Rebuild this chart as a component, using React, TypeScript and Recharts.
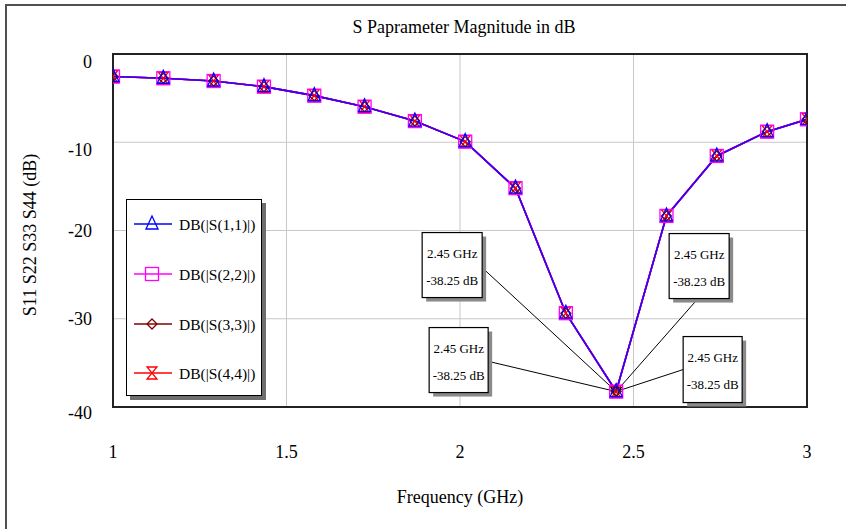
import React from 'react';
import {
  LineChart,
  Line,
  XAxis,
  YAxis,
  CartesianGrid,
  ReferenceArea,
  ReferenceDot,
  Legend,
} from 'recharts';

// ---------------- data ----------------
const freqGHz = [1.0, 1.145, 1.29, 1.435, 1.58, 1.725, 1.87, 2.015, 2.16, 2.305, 2.45, 2.595, 2.74, 2.885, 3.0];
const s11 = [-2.55, -2.75, -3.06, -3.7, -4.72, -5.97, -7.6, -9.93, -15.2, -29.37, -38.25, -18.35, -11.55, -8.8, -7.4];
const s22 = [-2.55, -2.75, -3.06, -3.7, -4.72, -5.97, -7.6, -9.93, -15.2, -29.37, -38.25, -18.35, -11.55, -8.8, -7.4];
const s33 = [-2.55, -2.75, -3.06, -3.7, -4.72, -5.97, -7.6, -9.93, -15.2, -29.37, -38.23, -18.35, -11.55, -8.8, -7.4];
const s44 = [-2.55, -2.75, -3.06, -3.7, -4.72, -5.97, -7.6, -9.93, -15.2, -29.37, -38.25, -18.35, -11.55, -8.8, -7.4];

const seriesNames = ['DB(|S(1,1)|)', 'DB(|S(2,2)|)', 'DB(|S(3,3)|)', 'DB(|S(4,4)|)'];
const xTicks = [1, 1.5, 2, 2.5, 3];
const yTicks = [0, -10, -20, -30, -40];

const markerFreq = 2.45;
const markerDb = -38.25;
const markerFreqLabels = ['2.45 GHz', '2.45 GHz', '2.45 GHz', '2.45 GHz'];
const markerDbLabels = ['-38.25 dB', '-38.25 dB', '-38.23 dB', '-38.25 dB'];

const titleText = 'S Paprameter Magnitude in dB';
const xAxisTitle = 'Frequency (GHz)';
const yAxisTitle = 'S11 S22 S33 S44 (dB)';

const data = freqGHz.map((f, i) => ({ f, s11: s11[i], s22: s22[i], s33: s33[i], s44: s44[i] }));

// ---------------- styling ----------------
const FONT = "'Liberation Serif', 'DejaVu Serif', serif";
const W = 846;
const H = 529;

const seriesStyle: Record<string, { color: string; kind: string; name: string }> = {
  s11: { color: '#0000ff', kind: 'triangle', name: seriesNames[0] },
  s22: { color: '#ff00ff', kind: 'square', name: seriesNames[1] },
  s33: { color: '#800000', kind: 'diamond', name: seriesNames[2] },
  s44: { color: '#ff0000', kind: 'hourglass', name: seriesNames[3] },
};

const yTickShift: Record<number, number> = { 0: 8, [-10]: 8, [-20]: 0, [-30]: 0, [-40]: 6 };

function MarkerShape({ kind, cx, cy, color }: { kind: string; cx: number; cy: number; color: string }) {
  const common = { fill: 'none', stroke: color, strokeWidth: 1.3 };
  if (kind === 'triangle') {
    return <polygon points={`${cx},${cy - 8} ${cx - 6},${cy + 5} ${cx + 6},${cy + 5}`} {...common} />;
  }
  if (kind === 'square') {
    return <rect x={cx - 6.5} y={cy - 6.5} width={13} height={13} {...common} />;
  }
  if (kind === 'diamond') {
    return <polygon points={`${cx},${cy - 5} ${cx + 5},${cy} ${cx},${cy + 5} ${cx - 5},${cy}`} {...common} />;
  }
  return (
    <polygon
      points={`${cx - 5},${cy - 6} ${cx + 5},${cy - 6} ${cx - 5},${cy + 6} ${cx + 5},${cy + 6}`}
      {...common}
    />
  );
}

const makeDot = (key: string) => (props: any) => {
  const { cx, cy, index } = props;
  if (cx == null || cy == null) return <g key={`${key}-${index}`} />;
  const st = seriesStyle[key];
  return (
    <g key={`${key}-${index}`}>
      <MarkerShape kind={st.kind} cx={cx} cy={cy} color={st.color} />
    </g>
  );
};

const YTick = (props: any) => {
  const { x, y, payload } = props;
  return (
    <text
      x={x - 21}
      y={y + (yTickShift[payload.value] ?? 0)}
      textAnchor="end"
      dominantBaseline="central"
      fontSize={18}
      style={{ fontFamily: FONT }}
      fill="#000"
    >
      {payload.value}
    </text>
  );
};

const XTick = (props: any) => {
  const { x, y, payload } = props;
  return (
    <text
      x={x}
      y={y + 45}
      textAnchor="middle"
      dominantBaseline="central"
      fontSize={18}
      style={{ fontFamily: FONT }}
      fill="#000"
    >
      {payload.value}
    </text>
  );
};

// callout boxes, positioned relative to the marker anchor
const callouts = [
  { dx: -194, dy: -159, w: 60, h: 65, lx: -133, ly: -123 },
  { dx: -187, dy: -64, w: 59, h: 65, lx: -127, ly: -30 },
  { dx: 53, dy: -158, w: 60, h: 65, lx: 81, ly: -92 },
  { dx: 67, dy: -55, w: 59, h: 66, lx: 67, ly: -22 },
];

const MarkerCallouts = (props: any) => {
  const { cx, cy } = props;
  if (cx == null || cy == null) return null;
  return (
    <g>
      {callouts.map((c, i) => (
        <line key={`l${i}`} x1={cx} y1={cy} x2={cx + c.lx} y2={cy + c.ly} stroke="#000" strokeWidth={1} />
      ))}
      <polygon
        points={`${cx - 5},${cy - 4} ${cx + 5},${cy - 4} ${cx},${cy + 5}`}
        fill="none"
        stroke="#000"
        strokeWidth={1.3}
      />
      {callouts.map((c, i) => {
        const bx = cx + c.dx;
        const by = cy + c.dy;
        return (
          <g key={`b${i}`}>
            <rect x={bx + 4} y={by + 4} width={c.w} height={c.h} fill="#8a8a8a" />
            <rect x={bx} y={by} width={c.w} height={c.h} fill="#fff" stroke="#000" strokeWidth={1.2} />
            <text
              x={bx + c.w / 2}
              y={by + 21}
              textAnchor="middle"
              dominantBaseline="central"
              fontSize={13}
              style={{ fontFamily: FONT }}
              fill="#000"
            >
              {markerFreqLabels[i]}
            </text>
            <text
              x={bx + c.w / 2}
              y={by + 48}
              textAnchor="middle"
              dominantBaseline="central"
              fontSize={13}
              style={{ fontFamily: FONT }}
              fill="#000"
            >
              {markerDbLabels[i]}
            </text>
          </g>
        );
      })}
    </g>
  );
};

const LegendBox = () => {
  const keys = ['s11', 's22', 's33', 's44'];
  const rowY = [24, 74, 124, 173];
  return (
    <div
      style={{
        position: 'relative',
        width: 136,
        height: 197,
        background: '#fff',
        border: '1px solid #000',
        boxShadow: '4px 4px 0 #6e6e6e',
        boxSizing: 'border-box',
      }}
    >
      <svg width={136} height={197} style={{ position: 'absolute', left: 0, top: 0 }}>
        {keys.map((k, i) => {
          const st = seriesStyle[k];
          const y = rowY[i];
          return (
            <g key={k}>
              <line x1={7} y1={y} x2={45} y2={y} stroke={st.color} strokeWidth={1.3} />
              <MarkerShape kind={st.kind} cx={25} cy={y} color={st.color} />
              <text x={52} y={y} dominantBaseline="central" fontSize={15.5} style={{ fontFamily: FONT }} fill="#000">
                {st.name}
              </text>
            </g>
          );
        })}
      </svg>
    </div>
  );
};

const drawOrder = ['s44', 's33', 's22', 's11'];

export default function App() {
  return (
    <div
      style={{
        position: 'absolute',
        left: 0,
        top: 0,
        width: W,
        height: H,
        overflow: 'hidden',
        background: '#fff',
        fontFamily: FONT,
      }}
    >
      <div
        style={{
          position: 'absolute',
          left: 5,
          top: 4,
          width: 1200,
          height: 1200,
          border: '2px solid #505050',
        }}
      />
      <div style={{ position: 'absolute', left: 0, top: 0 }}>
        <LineChart width={W} height={H} data={data} margin={{ top: 54, right: 39, left: 0, bottom: 0 }}>
          <CartesianGrid stroke="#c8c8c8" strokeWidth={1} />
          <XAxis
            dataKey="f"
            type="number"
            domain={[1, 3]}
            ticks={xTicks}
            allowDataOverflow
            height={122}
            axisLine={false}
            tickLine={false}
            tickSize={0}
            tickMargin={0}
            tick={<XTick />}
            interval={0}
          />
          <YAxis
            type="number"
            domain={[-40, 0]}
            ticks={yTicks}
            allowDataOverflow
            width={113}
            axisLine={false}
            tickLine={false}
            tickSize={0}
            tickMargin={0}
            tick={<YTick />}
            interval={0}
          />
          <ReferenceArea x1={1} x2={3} y1={-40} y2={0} fill="none" fillOpacity={0} stroke="#222" strokeWidth={2} />
          {drawOrder.map((k) => (
            <Line
              key={k}
              dataKey={k}
              name={seriesStyle[k].name}
              type="linear"
              stroke={seriesStyle[k].color}
              strokeWidth={1.6}
              strokeOpacity={k === 's11' ? 0.8 : 1}
              dot={makeDot(k)}
              activeDot={false}
              isAnimationActive={false}
            />
          ))}
          <ReferenceDot x={markerFreq} y={markerDb} r={0} shape={<MarkerCallouts />} />
          <Legend
            layout="vertical"
            align="center"
            verticalAlign="middle"
            wrapperStyle={{ left: 126, top: 199, width: 140, height: 201 }}
            content={() => <LegendBox />}
          />
        </LineChart>
      </div>
      <div
        style={{
          position: 'absolute',
          left: 117,
          top: 17,
          width: 694,
          lineHeight: '20px',
          fontSize: 18,
          textAlign: 'center',
          color: '#000',
          whiteSpace: 'nowrap',
        }}
      >
        {titleText}
      </div>
      <div
        style={{
          position: 'absolute',
          left: 113,
          top: 487,
          width: 694,
          lineHeight: '20px',
          fontSize: 18,
          textAlign: 'center',
          color: '#000',
          whiteSpace: 'nowrap',
        }}
      >
        {xAxisTitle}
      </div>
      <div
        style={{
          position: 'absolute',
          left: 30 - 110,
          top: 235 - 10,
          width: 220,
          height: 20,
          lineHeight: '20px',
          fontSize: 18,
          textAlign: 'center',
          color: '#000',
          whiteSpace: 'nowrap',
          transform: 'rotate(-90deg)',
        }}
      >
        {yAxisTitle}
      </div>
    </div>
  );
}
